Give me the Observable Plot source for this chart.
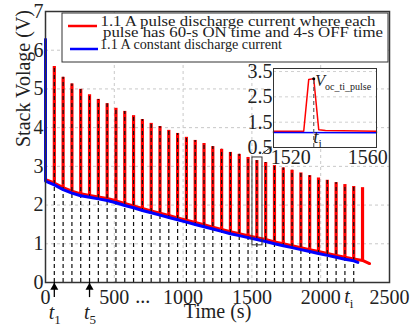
<!DOCTYPE html>
<html><head><meta charset="utf-8">
<script src="https://cdn.jsdelivr.net/npm/d3@7"></script>
<script src="https://cdn.jsdelivr.net/npm/@observablehq/plot@0.6"></script>
<style>
body{margin:0;background:#fff;}
#wrap{position:relative;width:413px;height:331px;font-family:"Liberation Serif","Times New Roman",serif;}
#wrap svg{position:absolute;}
</style></head><body><div id="wrap"></div>
<script>
// ---- data ----
const pulseTimes = [64,128,192,256,320,384,448,512,576,640,704,768,832,896,960,1024,1088,1152,1216,1280,1344,1408,1472,1536,1600,1664,1728,1792,1856,1920,1984,2048,2112,2176,2240,2304];
const pulsePeaks = [5.58,5.30,5.13,4.99,4.85,4.73,4.62,4.50,4.42,4.31,4.21,4.11,4.03,3.93,3.85,3.75,3.67,3.59,3.51,3.44,3.36,3.31,3.23,3.15,3.10,3.02,2.96,2.90,2.83,2.76,2.70,2.64,2.58,2.53,2.48,2.45];
const redBase = [2.57,2.45,2.36,2.29,2.25,2.21,2.17,2.11,2.04,1.98,1.91,1.85,1.79,1.73,1.67,1.61,1.55,1.49,1.43,1.37,1.31,1.26,1.21,1.16,1.11,1.05,1.00,0.95,0.90,0.85,0.80,0.75,0.70,0.65,0.61,0.57];
const redStart = [0, 2.66];
const redEnd = [2355, 0.49];
const blueT = [0,0,64,128,192,256,320,384,448,512,576,640,704,768,832,896,960,1024,1088,1152,1216,1280,1344,1408,1472,1536,1600,1664,1728,1792,1856,1920,1984,2048,2112,2176,2240,2270];
const blueV = [6.28,2.62,2.52,2.40,2.31,2.24,2.20,2.16,2.12,2.06,1.99,1.93,1.86,1.80,1.74,1.68,1.62,1.56,1.50,1.44,1.38,1.32,1.26,1.21,1.16,1.11,1.06,1.00,0.95,0.90,0.85,0.80,0.75,0.70,0.65,0.60,0.56,0.52];
const tiTime = 2240;
const markedPulses = [{t:64, sub:"1"},{t:320, sub:"5"}];
const xTicks = [0,500,1000,1500,2000,2500];
const yTicks = [0,1,2,3,4,5,6,7];
const zoomBox = {x1:1504, x2:1577, y1:0.96, y2:3.23};
const zoomArrow = {x1:1577, y1:3.33, x2:1640, y2:3.50};
// inset
const insetRedT = [1511,1526.7,1529.3,1531.9,1534.5,1538,1564.5];
const insetRedV = [1.14,1.14,3.19,3.22,1.20,1.17,1.14];
const insetBlueT = [1511,1564.5];
const insetBlueV = [1.09,1.08];
const insetTi = 1531.9, insetPeak = 3.22;
const insetXTicks = [1520,1560];
const insetYTicks = [0.5,1.5,2.5,3.5];
const legendLabels = ["1.1 A pulse discharge current where each","pulse has 60-s ON time and 4-s OFF time","1.1 A constant discharge current"];

// ---- tables ----
const redLine = [{t:redStart[0], v:redStart[1]}]
  .concat(pulseTimes.map((t,i)=>({t, v:redBase[i]})))
  .concat([{t:redEnd[0], v:redEnd[1]}]);
const pulses = pulseTimes.map((t,i)=>({t, base:redBase[i], peak:pulsePeaks[i]}));
const dashed = pulses.filter(d=>d.t<=tiTime);
const blue = blueT.map((t,i)=>({t, v:blueV[i]}));
const font = "Liberation Serif, Times New Roman, serif";

const plot = Plot.plot({
  width:413, height:331, marginLeft:45, marginRight:24, marginTop:11, marginBottom:49,
  x:{domain:[0,2500]}, y:{domain:[0,7]},
  style:{fontFamily:font, fontSize:"20px", background:"white", color:"#222"},
  marks:[
    Plot.gridY(yTicks.slice(1,-1), {stroke:"#c8c8c8", strokeOpacity:1, strokeDasharray:"3,3"}),
    Plot.gridX(xTicks.slice(1,-1), {stroke:"#c8c8c8", strokeOpacity:1, strokeDasharray:"3,3"}),
    Plot.line(redLine, {x:"t", y:"v", stroke:"red", strokeWidth:3}),
    Plot.ruleX(pulses, {x:"t", y1:"base", y2:"peak", stroke:"red", strokeWidth:3.2}),
    Plot.ruleX(dashed, {x:"t", y1:0, y2:"peak", stroke:"#111", strokeWidth:1.2, strokeDasharray:"4,3"}),
    Plot.line(blue, {x:"t", y:"v", stroke:"blue", strokeWidth:3}),
    Plot.rect([zoomBox], {x1:"x1", x2:"x2", y1:"y1", y2:"y2", stroke:"#333", strokeWidth:1, fill:"none"}),
    Plot.arrow([zoomArrow], {x1:"x1", y1:"y1", x2:"x2", y2:"y2", stroke:"#333", strokeWidth:1, headLength:5}),
    Plot.frame({stroke:"#333", strokeWidth:1.5}),
    Plot.axisY(yTicks, {tickSize:0, tickPadding:2, label:null, fontSize:20, tickFormat:d=>String(d)}),
    Plot.axisX(xTicks, {tickSize:0, tickPadding:7, label:null, fontSize:20, tickFormat:d=>String(d)}),
    Plot.ruleX(markedPulses, {x:"t", y1:0, y2:-0.39, stroke:"black", strokeWidth:1.3}),
    Plot.dot(markedPulses, {x:"t", y:()=>-0.13, symbol:"triangle", r:3, fill:"black", stroke:"none"}),
    Plot.text(["Stack Volage (V)"], {frameAnchor:"left", dx:-22, rotate:-90, fontSize:20}),
    Plot.text(["Time (s)"], {frameAnchor:"bottom", dy:35, fontSize:20})
  ]
});
document.getElementById("wrap").appendChild(plot);
const sx = plot.scale("x"), sy = plot.scale("y");
const svg = d3.select(plot);
function subText(sel, px, py, main, sub, size, subSize, anchor){
  const t = sel.append("text").attr("x",px).attr("y",py).attr("text-anchor",anchor||"middle")
    .style("font-family",font).style("font-size",size+"px").attr("fill","#222");
  t.append("tspan").style("font-style","italic").text(main);
  t.append("tspan").attr("dy", size*0.25).style("font-size",subSize+"px").text(sub);
  return t;
}
const y0 = sy.apply(0);
markedPulses.forEach(d=>subText(svg, sx.apply(d.t)-5, y0+37, "t", d.sub, 20, 13, "start"));
subText(svg, sx.apply(tiTime)-9, y0+21, "t", "i", 20, 13, "start");
svg.append("text").attr("x", sx.apply(710)).attr("y", y0+21).attr("text-anchor","middle")
  .style("font-family",font).style("font-size","20px").attr("fill","#222").text("...");

// legend
const lg = svg.append("g").attr("text-anchor","start");
lg.append("rect").attr("x",62).attr("y",13).attr("width",326).attr("height",49).attr("fill","white").attr("stroke","#333").attr("stroke-width",1);
lg.append("line").attr("x1",68).attr("x2",97).attr("y1",26).attr("y2",26).attr("stroke","red").attr("stroke-width",2.5);
lg.append("line").attr("x1",70).attr("x2",98).attr("y1",49).attr("y2",49).attr("stroke","blue").attr("stroke-width",2.5);
[[100.5,25.5,275],[103,37,280],[100,48.5,182]].forEach((p,i)=>{
  lg.append("text").attr("x",p[0]).attr("y",p[1]).attr("text-anchor","start")
    .attr("textLength",p[2]).attr("lengthAdjust","spacingAndGlyphs")
    .style("font-family",font).style("font-size","15px").attr("fill","#222").text(legendLabels[i]);
});

// inset
const inset = Plot.plot({
  width:150, height:110, marginLeft:35, marginRight:12, marginTop:8, marginBottom:23,
  x:{domain:[1511,1564.5]}, y:{domain:[0.5,3.62]},
  style:{fontFamily:font, fontSize:"20px", background:"transparent", color:"#222", overflow:"visible"},
  marks:[
    Plot.frame({fill:"white", stroke:"none"}),
    Plot.gridY(insetYTicks.slice(1), {stroke:"#d0d0d0", strokeOpacity:1, strokeDasharray:"3,3"}),
    Plot.line(insetRedT.map((t,i)=>({t,v:insetRedV[i]})), {x:"t", y:"v", stroke:"red", strokeWidth:1.5}),
    Plot.line(insetBlueT.map((t,i)=>({t,v:insetBlueV[i]})), {x:"t", y:"v", stroke:"blue", strokeWidth:1.5}),
    Plot.ruleX([insetTi], {y1:0.5, y2:insetPeak, stroke:"#666", strokeWidth:1.2, strokeDasharray:"4,3"}),
    Plot.dot([insetTi], {x:d=>d, y:()=>insetPeak, r:1.5, fill:"black", stroke:"none"}),
    Plot.frame({stroke:"#333", strokeWidth:1}),
    Plot.axisY(insetYTicks, {tickSize:0, tickPadding:1, label:null, fontSize:20, tickFormat:d=>d.toFixed(1)}),
    Plot.axisX(insetXTicks, {tickSize:0, tickPadding:2, label:null, fontSize:20, tickFormat:d=>String(d)})
  ]
});
inset.style.left = "238px"; inset.style.top = "60px";
document.getElementById("wrap").appendChild(inset);
const ix = inset.scale("x"), iy = inset.scale("y");
const isvg = d3.select(inset);
subText(isvg, ix.apply(insetTi)+2, iy.apply(insetPeak)+8, "V", "oc_ti_pulse", 16, 10, "start");
subText(isvg, ix.apply(insetTi), iy.apply(0.5)-4, "t", "i", 19, 12, "start");
</script></body></html>
